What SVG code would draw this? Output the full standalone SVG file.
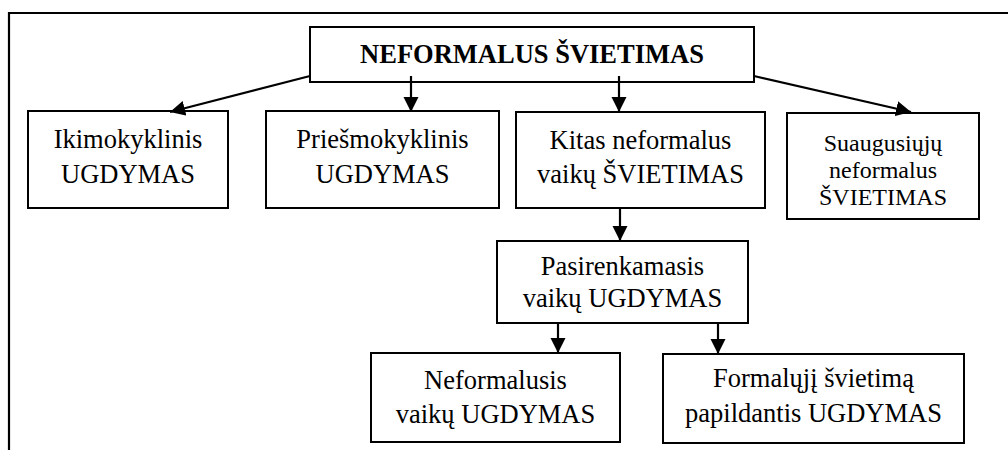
<svg xmlns="http://www.w3.org/2000/svg" width="1008" height="450" viewBox="0 0 1008 450">
<style>
.box{fill:#fff;stroke:#000;stroke-width:2}
text{font-family:"Liberation Serif","Times New Roman",serif;font-size:26.5px;fill:#000;text-anchor:middle}
.b{font-weight:bold}
.s{font-size:24px}
.c{stroke:#000;stroke-width:2.2;fill:none}
</style>
<defs>
<marker id="ah" markerUnits="userSpaceOnUse" markerWidth="16" markerHeight="16" refX="15" refY="7.5" orient="auto">
<path d="M0,0 L15,7.5 L0,15 Z" fill="#000"/>
</marker>
</defs>
<rect width="1008" height="450" fill="#fff"/>
<g id="frame"><path d="M9,450 V13 H1008" stroke="#000" stroke-width="2.2" fill="none"/></g>
<g id="n-root"><rect class="box" x="310" y="27" width="444" height="55"/><text class="b" x="532" y="63">NEFORMALUS ŠVIETIMAS</text></g>
<g id="n-iki"><rect class="box" x="28" y="111" width="200" height="97"/><text x="128" y="148">Ikimokyklinis</text><text x="128" y="183">UGDYMAS</text></g>
<g id="n-pries"><rect class="box" x="266" y="111" width="233" height="97"/><text x="382.5" y="148">Priešmokyklinis</text><text x="382.5" y="183">UGDYMAS</text></g>
<g id="n-kitas"><rect class="box" x="516" y="112" width="249" height="96"/><text x="640.5" y="149">Kitas neformalus</text><text x="640.5" y="183">vaikų ŠVIETIMAS</text></g>
<g id="n-suaug"><rect class="box" x="787" y="113" width="192" height="106"/><text class="s" x="883" y="151">Suaugusiųjų</text><text class="s" x="883" y="178">neformalus</text><text class="s" x="883" y="205">ŠVIETIMAS</text></g>
<g id="n-pasir"><rect class="box" x="497" y="241" width="251" height="82"/><text x="622.5" y="275">Pasirenkamasis</text><text x="622.5" y="307">vaikų UGDYMAS</text></g>
<g id="n-nef"><rect class="box" x="371" y="353" width="249" height="89"/><text x="495.5" y="389">Neformalusis</text><text x="495.5" y="423">vaikų UGDYMAS</text></g>
<g id="n-form"><rect class="box" x="663" y="354" width="301" height="89"/><text x="813.5" y="387">Formalųjį švietimą</text><text x="813.5" y="422">papildantis UGDYMAS</text></g>
<g id="connectors">
<line class="c" x1="310" y1="76" x2="170" y2="112" marker-end="url(#ah)"/>
<line class="c" x1="411" y1="76" x2="411" y2="112" marker-end="url(#ah)"/>
<line class="c" x1="619" y1="76" x2="619" y2="112" marker-end="url(#ah)"/>
<line class="c" x1="754" y1="76" x2="911" y2="112" marker-end="url(#ah)"/>
<line class="c" x1="620" y1="208" x2="620" y2="241" marker-end="url(#ah)"/>
<line class="c" x1="558" y1="323" x2="558" y2="353" marker-end="url(#ah)"/>
<line class="c" x1="718" y1="323" x2="718" y2="354" marker-end="url(#ah)"/>
</g>
</svg>
